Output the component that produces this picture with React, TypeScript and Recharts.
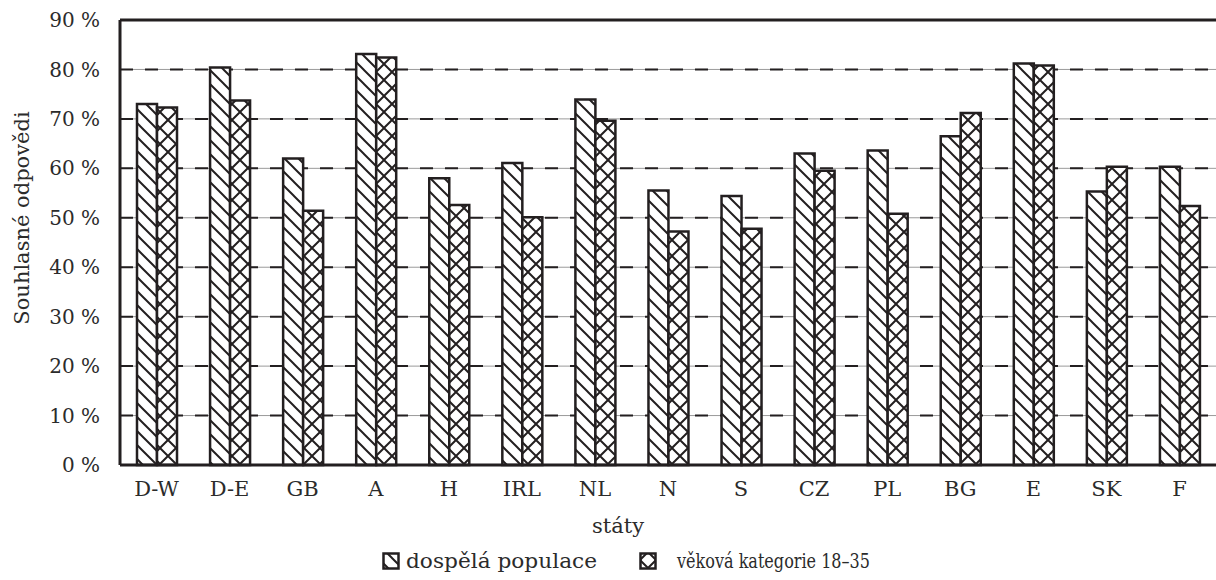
import * as React from "react"
import { BarChart, Bar, XAxis, YAxis, CartesianGrid, ReferenceLine, Legend } from "recharts"

const staty = ["D-W", "D-E", "GB", "A", "H", "IRL", "NL", "N", "S", "CZ", "PL", "BG", "E", "SK", "F"]
const dospela = [73.0, 80.4, 62.0, 83.1, 58.0, 61.1, 73.9, 55.5, 54.4, 63.0, 63.6, 66.5, 81.2, 55.3, 60.3]
const mladi = [72.3, 73.7, 51.4, 82.4, 52.6, 50.1, 69.6, 47.2, 47.8, 59.5, 50.8, 71.2, 80.8, 60.3, 52.4]
const yTicks = [0, 10, 20, 30, 40, 50, 60, 70, 80, 90]

const data = staty.map((s, i) => ({ stat: s, dospela: dospela[i], mladi: mladi[i] }))

const INK = "#231f20"
const TXT = "#2b2b2b"
const FONT = "'DejaVu Serif', serif"
const FS = 21

const Patterns = ({ prefix }: { prefix: string }) => (
  <defs>
    <pattern id={`${prefix}-diag`} patternUnits="userSpaceOnUse" width="14" height="14">
      <rect width="14" height="14" fill="#fff" />
      <path d="M0,0 L14,14 M-7,7 L7,21 M7,-7 L21,7" stroke={INK} strokeWidth="2" />
    </pattern>
    <pattern id={`${prefix}-cross`} patternUnits="userSpaceOnUse" width="16" height="16">
      <rect width="16" height="16" fill="#fff" />
      <path d="M0,0 L16,16 M-8,8 L8,24 M8,-8 L24,8 M16,0 L0,16 M8,-8 L-8,8 M24,8 L8,24" stroke={INK} strokeWidth="2" />
    </pattern>
  </defs>
)

// legend placed to match the original print layout
const LegendBox = () => (
  <svg width={1216} height={34} style={{ display: "block" }}>
    <Patterns prefix="lg" />
    <rect x={383.5} y={9.5} width={15} height={15} fill="url(#lg-diag)" stroke={INK} strokeWidth={2.5} />
    <text x={406} y={24} fill={TXT} fontSize={FS} fontFamily={FONT} textLength={191} lengthAdjust="spacingAndGlyphs">
      dospělá populace
    </text>
    <rect x={640.5} y={9.5} width={15} height={15} fill="url(#lg-cross)" stroke={INK} strokeWidth={2.5} />
    <text x={677} y={24} fill={TXT} fontSize={FS} fontFamily={FONT} textLength={193} lengthAdjust="spacingAndGlyphs">
      věková kategorie 18–35
    </text>
  </svg>
)

export default function App() {
  return (
    <div style={{ position: "absolute", left: 0, top: 0, background: "#fff" }}>
      <BarChart
        width={1216}
        height={580}
        data={data}
        margin={{ top: 20, right: 0, bottom: 2, left: 0 }}
        barSize={20}
        barGap={0}
      >
        <Patterns prefix="ch" />
        <CartesianGrid vertical={false} stroke="#9a9a9a" strokeWidth={1} />
        <CartesianGrid vertical={false} stroke={INK} strokeWidth={2} strokeDasharray="13 12" />
        <XAxis
          dataKey="stat"
          tickLine={false}
          axisLine={{ stroke: INK, strokeWidth: 3 }}
          tick={{ fill: TXT, fontSize: FS, fontFamily: FONT }}
          tickMargin={10}
          height={79}
          label={{
            content: () => (
              <text x={618} y={533} textAnchor="middle" fill={TXT} fontSize={FS} fontFamily={FONT}>
                státy
              </text>
            ),
          }}
        />
        <YAxis
          domain={[0, 90]}
          ticks={yTicks}
          interval={0}
          tickFormatter={(v) => `${v} %`}
          width={120}
          tickLine={false}
          axisLine={{ stroke: INK, strokeWidth: 3 }}
          tick={{ fill: TXT, fontSize: 20, fontFamily: FONT }}
          tickMargin={14}
          label={{
            content: () => (
              <text x={29} y={218} transform="rotate(-90 29 218)" textAnchor="middle" fill={TXT} fontSize={FS} fontFamily={FONT}>
                Souhlasné odpovědi
              </text>
            ),
          }}
        />
        <ReferenceLine y={90} stroke={INK} strokeWidth={3} />
        <Bar dataKey="dospela" name="dospělá populace" fill="url(#ch-diag)" stroke={INK} strokeWidth={2.5} isAnimationActive={false} />
        <Bar dataKey="mladi" name="věková kategorie 18–35" fill="url(#ch-cross)" stroke={INK} strokeWidth={2.5} isAnimationActive={false} />
        <Legend verticalAlign="bottom" content={() => <LegendBox />} />
      </BarChart>
    </div>
  )
}
